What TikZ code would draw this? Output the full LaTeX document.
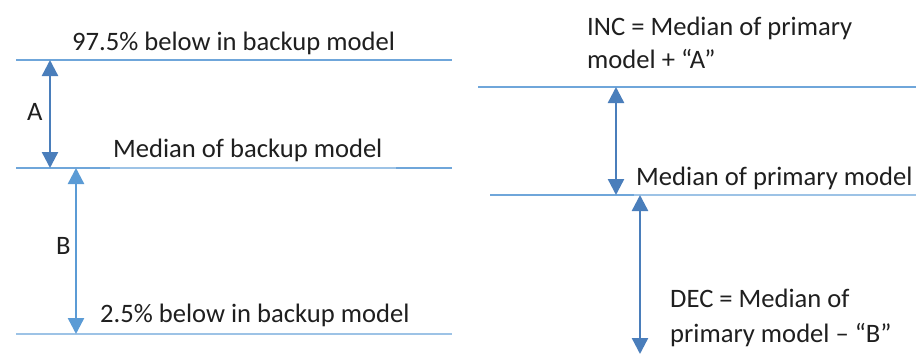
\documentclass[tikz,border=0pt]{standalone}
\usepackage{fontspec}
\setmainfont{Carlito}
\usetikzlibrary{arrows.meta}
\definecolor{darkarrow}{HTML}{4A7EBB}
\definecolor{lightarrow}{HTML}{5B9BD5}
\definecolor{levelline}{HTML}{6FA6DA}
\definecolor{palelevel}{HTML}{9DC3E6}
\definecolor{textgray}{HTML}{1F1F1F}
\tikzset{
  level/.style={draw=levelline, line width=1.2pt},
  palelevelline/.style={draw=palelevel, line width=1.2pt},
  span/.style={line width=2.4pt, {Triangle[width=16pt,length=16pt]}-{Triangle[width=16pt,length=16pt]}},
  lbl/.style={anchor=base west, inner sep=0pt, font=\fontsize{26.6}{33}\selectfont, text=textgray},
}
\begin{document}
\begin{tikzpicture}[x=1pt,y=-1pt]
\useasboundingbox (0,0) rectangle (916,354);
\clip (0,0) rectangle (916,354);
\fill[white] (0,0) rectangle (916,354);

% ---- backup model (left) ----
\coordinate (lt0) at (16,60);   \coordinate (lt1) at (452,60);
\coordinate (lm0) at (16,168);  \coordinate (lm1) at (452,168);
\coordinate (lb0) at (16,334);  \coordinate (lb1) at (452,334);
\draw[level] (lt0) -- (lt1);
\draw[palelevelline] (lm0) -- (lm1);
\draw[level] (lm0) -- (110,168);
\draw[level] (396,168) -- (lm1);
\draw[palelevelline] (lb0) -- (lb1);

\coordinate (aTop) at (50,60);  \coordinate (aBot) at (50,168);
\draw[span, darkarrow] (aTop) -- (aBot);
\coordinate (bTop) at (76,168); \coordinate (bBot) at (76,334);
\draw[span, lightarrow] (bTop) -- (bBot);

\node[lbl] (hiB) at (72,50) {97.5\% below in backup model};
\node[lbl] (medB) at (113,157) {Median of backup model};
\node[lbl] (loB) at (100,322) {2.5\% below in backup model};
\node[lbl] (labA) at (27,120) {A};
\node[lbl] (labB) at (56,254) {B};

% ---- primary model (right) ----
\coordinate (rt0) at (478,87);  \coordinate (rt1) at (916,87);
\coordinate (rm0) at (490,195); \coordinate (rm1) at (916,195);
\draw[level] (rt0) -- (rt1);
\draw[palelevelline] (rm0) -- (rm1);
\draw[level] (rm0) -- (634,195);

\coordinate (incTop) at (616,87);  \coordinate (incBot) at (616,195);
\draw[span, darkarrow] (incTop) -- (incBot);
\coordinate (decTop) at (640,195); \coordinate (decBot) at (640,354);
\draw[span, darkarrow] (decTop) -- (decBot);

\node[lbl] (inc1) at (587,35) {INC = Median of primary};
\node[lbl] (inc2) at (587,68) {model + “A”};
\node[lbl] (medP) at (636,185) {Median of primary model};
\node[lbl] (dec1) at (670,307) {DEC = Median of};
\node[lbl] (dec2) at (670,342) {primary model – “B”};
\end{tikzpicture}
\end{document}
